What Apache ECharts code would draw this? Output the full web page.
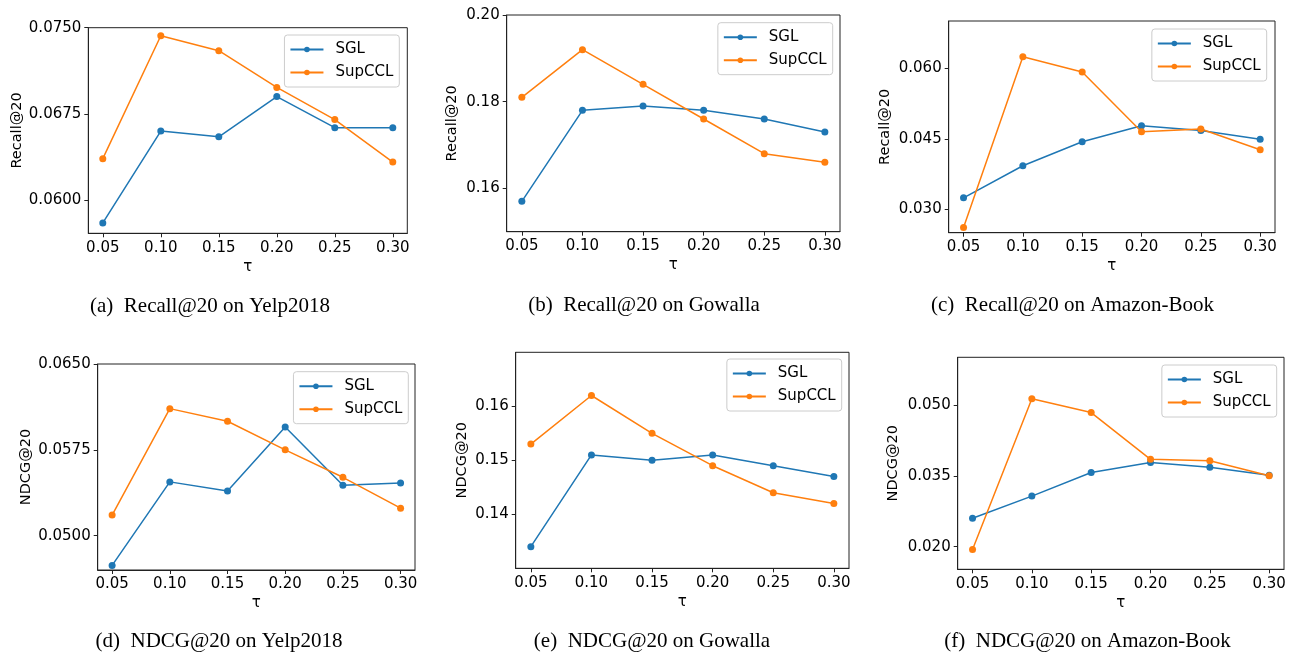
<!DOCTYPE html>
<html>
<head>
<meta charset="utf-8">
<script src="https://cdn.jsdelivr.net/npm/echarts@6/dist/echarts.min.js"></script>
<style>
  html, body { margin: 0; padding: 0; background: #fff; }
  #main { width: 1291px; height: 654px; }
</style>
</head>
<body>
<div id="main"></div>
<script>
// temperature values on the x axis
const tau = [0.05, 0.10, 0.15, 0.20, 0.25, 0.30];

// Recall@20
const sglRecallYelp = [0.0580, 0.0660, 0.0655, 0.0690, 0.0663, 0.0663];
const supRecallYelp = [0.0636, 0.0743, 0.0730, 0.0698, 0.0670, 0.0633];
const sglRecallGowalla = [0.157, 0.178, 0.179, 0.178, 0.176, 0.173];
const supRecallGowalla = [0.181, 0.192, 0.184, 0.176, 0.168, 0.166];
const sglRecallAmazon = [0.0325, 0.0393, 0.0444, 0.0478, 0.0468, 0.0449];
const supRecallAmazon = [0.0262, 0.0624, 0.0592, 0.0465, 0.0471, 0.0427];

// NDCG@20
const sglNdcgYelp = [0.0474, 0.0547, 0.0539, 0.0595, 0.0544, 0.0546];
const supNdcgYelp = [0.0518, 0.0611, 0.0600, 0.0575, 0.0551, 0.0524];
const sglNdcgGowalla = [0.134, 0.151, 0.150, 0.151, 0.149, 0.147];
const supNdcgGowalla = [0.153, 0.162, 0.155, 0.149, 0.144, 0.142];
const sglNdcgAmazon = [0.0260, 0.0307, 0.0357, 0.0378, 0.0368, 0.0351];
const supNdcgAmazon = [0.0194, 0.0513, 0.0484, 0.0385, 0.0382, 0.0350];

// y tick labels
const yTicksA = [0.0600, 0.0675, 0.0750];
const yTicksB = [0.16, 0.18, 0.20];
const yTicksC = [0.030, 0.045, 0.060];
const yTicksD = [0.0500, 0.0575, 0.0650];
const yTicksE = [0.14, 0.15, 0.16];
const yTicksF = [0.020, 0.035, 0.050];

const yNames = ["Recall@20", "Recall@20", "Recall@20", "NDCG@20", "NDCG@20", "NDCG@20"];
const captions = [
  "(a)  Recall@20 on Yelp2018",
  "(b)  Recall@20 on Gowalla",
  "(c)  Recall@20 on Amazon-Book",
  "(d)  NDCG@20 on Yelp2018",
  "(e)  NDCG@20 on Gowalla",
  "(f)  NDCG@20 on Amazon-Book"
];
const seriesNames = ["SGL", "SupCCL"];

const panels = [
  { sgl: sglRecallYelp, sup: supRecallYelp, ticks: yTicksA, dec: 4, ymin: 0.0571, ymax: 0.0750 },
  { sgl: sglRecallGowalla, sup: supRecallGowalla, ticks: yTicksB, dec: 2, ymin: 0.150, ymax: 0.200 },
  { sgl: sglRecallAmazon, sup: supRecallAmazon, ticks: yTicksC, dec: 3, ymin: 0.0251, ymax: 0.0700 },
  { sgl: sglNdcgYelp, sup: supNdcgYelp, ticks: yTicksD, dec: 4, ymin: 0.0470, ymax: 0.0650 },
  { sgl: sglNdcgGowalla, sup: supNdcgGowalla, ticks: yTicksE, dec: 2, ymin: 0.130, ymax: 0.170 },
  { sgl: sglNdcgAmazon, sup: supNdcgAmazon, ticks: yTicksF, dec: 3, ymin: 0.0152, ymax: 0.0601 }
];

// layout of each subplot: grid box, y name gap, legend box, caption centre
const layout = [
  { l: 88.3, t: 27.7, w: 319, h: 205.6, gap: 63.6, legR: 891.7, legT: 35, cx: 210, cy: 306.7 },
  { l: 506.7, t: 15, w: 333.3, h: 216.7, gap: 47, legR: 458.3, legT: 22.7, cx: 644, cy: 305 },
  { l: 948.7, t: 21, w: 326.3, h: 211.7, gap: 55.7, legR: 24.3, legT: 29, cx: 1072.5, cy: 305 },
  { l: 97.7, t: 364, w: 317.3, h: 206, gap: 63.7, legR: 882.7, legT: 371.7, cx: 219, cy: 641.5 },
  { l: 515.7, t: 352.3, w: 333.3, h: 216, gap: 46, legR: 449.3, legT: 359, cx: 652, cy: 641 },
  { l: 957.7, t: 357.3, w: 326.3, h: 212, gap: 56.7, legR: 14.3, legT: 365, cx: 1087.5, cy: 641 }
];

const colors = ["#1f77b4", "#ff7f0e"];
const font = "DejaVu Sans";

var chart = echarts.init(document.getElementById("main"), null, { renderer: "canvas" });

var grid = [], xAxis = [], yAxis = [], series = [], legend = [], graphic = [];

panels.forEach(function (p, i) {
  var lay = layout[i];
  grid.push({
    left: lay.l, top: lay.t, width: lay.w, height: lay.h,
    show: true, borderColor: "#222", borderWidth: 1, backgroundColor: "#fff"
  });
  xAxis.push({
    type: "value", gridIndex: i, min: 0.0375, max: 0.3125,
    name: "τ", nameLocation: "middle", nameGap: 26,
    nameTextStyle: { fontFamily: font, fontSize: 15, color: "#000" },
    axisLine: { show: true, lineStyle: { color: "#222" } },
    axisTick: { show: true, inside: false, length: 4, lineStyle: { color: "#222" }, customValues: tau },
    axisLabel: {
      fontFamily: font, fontSize: 15, color: "#000", margin: 7,
      customValues: tau,
      formatter: function (v) { return v.toFixed(2); }
    },
    splitLine: { show: false }
  });
  yAxis.push({
    type: "value", gridIndex: i, min: p.ymin, max: p.ymax,
    name: yNames[i], nameLocation: "middle", nameGap: lay.gap,
    nameTextStyle: { fontFamily: font, fontSize: 14.5, color: "#000" },
    axisLine: { show: true, lineStyle: { color: "#222" } },
    axisTick: { show: true, inside: false, length: 4, lineStyle: { color: "#222" }, customValues: p.ticks },
    axisLabel: {
      fontFamily: font, fontSize: 15, color: "#000", margin: 7,
      customValues: p.ticks,
      formatter: (function (d) { return function (v) { return v.toFixed(d); }; })(p.dec)
    },
    splitLine: { show: false }
  });
  [p.sgl, p.sup].forEach(function (vals, k) {
    series.push({
      name: seriesNames[k], type: "line", xAxisIndex: i, yAxisIndex: i,
      data: tau.map(function (t, j) { return [t, vals[j]]; }),
      symbol: "circle", symbolSize: 7, showSymbol: true,
      lineStyle: { width: 1.5, color: colors[k] },
      itemStyle: { color: colors[k] },
      animation: false
    });
  });
  legend.push({
    orient: "vertical", right: lay.legR, top: lay.legT,
    data: seriesNames,
    itemWidth: 33, itemHeight: 7, itemGap: 8,
    padding: [7, 6, 7, 5],
    backgroundColor: "rgba(255,255,255,0.8)",
    borderColor: "#ccc", borderWidth: 1, borderRadius: 3,
    textStyle: { fontFamily: font, fontSize: 15, color: "#000", padding: [0, 0, 0, 7] }
  });
  graphic.push({
    type: "text", x: lay.cx, y: lay.cy, silent: true,
    style: {
      text: captions[i], fontFamily: "Liberation Serif", fontSize: 21, fill: "#000",
      textAlign: "center", textVerticalAlign: "middle"
    }
  });
});

var option = {
  backgroundColor: "#fff",
  animation: false,
  color: colors,
  grid: grid,
  xAxis: xAxis,
  yAxis: yAxis,
  legend: legend,
  series: series,
  graphic: graphic
};

option && chart.setOption(option);
</script>
</body>
</html>
